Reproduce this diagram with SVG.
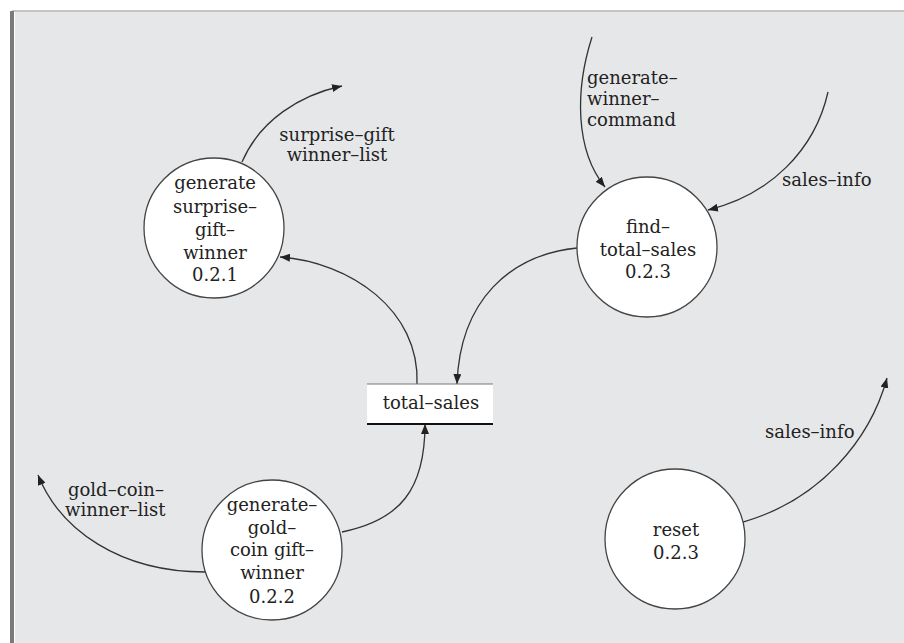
<svg xmlns="http://www.w3.org/2000/svg" width="904" height="643" viewBox="0 0 904 643">
<style>
.t{font-family:"DejaVu Serif","Liberation Serif",serif;font-size:18px;fill:#222;}
.m{text-anchor:middle;}
.node{fill:#fff;stroke:#444;stroke-width:1.3;}
.flow{fill:none;stroke:#333;stroke-width:1.3;marker-end:url(#ah);}
.plain{fill:none;stroke:#333;stroke-width:1.3;}
</style>
<defs>
<marker id="ah" markerUnits="userSpaceOnUse" markerWidth="10" markerHeight="8" refX="10" refY="4" orient="auto">
<path d="M0,0 L10,4 L0,8 z" fill="#222"/>
</marker>
</defs>
<rect x="0" y="0" width="904" height="643" fill="#fff"/>
<rect x="15" y="12" width="889" height="631" fill="#e6e7e9"/>
<line x1="12" y1="11" x2="904" y2="11" stroke="#c4c4c4" stroke-width="2"/>
<line x1="12" y1="11" x2="12" y2="643" stroke="#7a7a7a" stroke-width="4"/>

<g id="connectors">
<path class="flow" d="M242,162 C260,120 300,95 342,86"/>
<path class="flow" d="M592,37 C575,90 575,150 605,187"/>
<path class="flow" d="M828,92 C815,150 770,195 708,210"/>
<path class="flow" d="M577,248 C510,255 460,300 457,384"/>
<path class="flow" d="M417,384 C420,310 350,262 280,257"/>
<path class="flow" d="M342,532 C400,520 425,490 425,424"/>
<path class="flow" d="M205,572 C120,572 60,530 38,475"/>
<path class="flow" d="M743,522 C820,500 870,440 887,378"/>
</g>

<g id="labels">
<text class="t m" x="337" y="141">surprise–gift</text>
<text class="t m" x="337" y="161">winner–list</text>
<text class="t" x="587" y="84">generate–</text>
<text class="t" x="587" y="105">winner–</text>
<text class="t" x="587" y="126">command</text>
<text class="t" x="782" y="186">sales–info</text>
<text class="t" x="68" y="496">gold–coin–</text>
<text class="t" x="65" y="516">winner–list</text>
<text class="t" x="765" y="438">sales–info</text>
</g>

<g id="node-surprise">
<circle class="node" cx="214" cy="228" r="70"/>
<text class="t m" x="215" y="189">generate</text>
<text class="t m" x="215" y="213">surprise–</text>
<text class="t m" x="215" y="236">gift–</text>
<text class="t m" x="215" y="259">winner</text>
<text class="t m" x="215" y="281">0.2.1</text>
</g>

<g id="node-find">
<circle class="node" cx="647" cy="247" r="70"/>
<text class="t m" x="648" y="233">find–</text>
<text class="t m" x="648" y="256">total–sales</text>
<text class="t m" x="648" y="278">0.2.3</text>
</g>

<g id="node-gold">
<circle class="node" cx="272" cy="550" r="70"/>
<text class="t m" x="272" y="511">generate–</text>
<text class="t m" x="272" y="534">gold–</text>
<text class="t m" x="272" y="556">coin gift–</text>
<text class="t m" x="272" y="579">winner</text>
<text class="t m" x="272" y="603">0.2.2</text>
</g>

<g id="node-reset">
<circle class="node" cx="675" cy="539" r="70"/>
<text class="t m" x="676" y="536">reset</text>
<text class="t m" x="676" y="559">0.2.3</text>
</g>

<g id="node-total-sales">
<rect x="367" y="384" width="126" height="40" fill="#fff"/>
<line x1="367" y1="384" x2="493" y2="384" stroke="#777" stroke-width="1"/>
<line x1="367" y1="424" x2="493" y2="424" stroke="#111" stroke-width="2"/>
<text class="t m" x="431" y="409">total–sales</text>
</g>
</svg>
